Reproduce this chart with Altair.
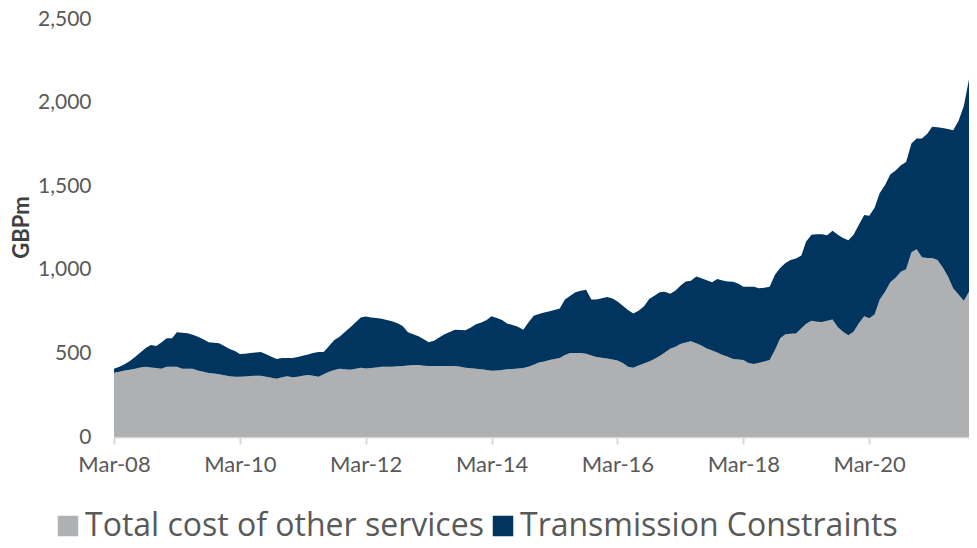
import altair as alt
import pandas as pd

# Monthly, Mar-08 .. Oct-21
months = pd.date_range("2008-03-01", "2021-10-01", freq="MS")

other_services = [
    384, 390, 397, 402, 408, 415, 420, 416, 412, 408, 420, 420,
    420, 408, 408, 408, 398, 390, 383, 380, 376, 370, 364, 360,
    360, 362, 365, 366, 366, 360, 355, 349, 358, 364, 357, 360,
    367, 371, 366, 360, 375, 390, 400, 408, 405, 402, 408, 414,
    410, 412, 416, 420, 420, 420, 423, 425, 428, 430, 431, 426,
    425, 425, 425, 425, 425, 425, 420, 414, 411, 408, 405, 400,
    396, 398, 401, 405, 407, 410, 413, 420, 432, 445, 452, 460,
    466, 473, 490, 502, 502, 502, 498, 488, 479, 474, 469, 464,
    458, 443, 420, 414, 428, 440, 452, 467, 485, 505, 528, 540,
    556, 565, 573, 560, 547, 530, 518, 505, 490, 480, 467, 464,
    460, 442, 437, 444, 452, 460, 520, 591, 615, 617, 619, 650,
    678, 695, 690, 688, 695, 703, 656, 630, 609, 630, 680, 722,
    710, 733, 822, 869, 925, 952, 988, 1003, 1105, 1123, 1075, 1070,
    1070, 1058, 1015, 960, 890, 853, 815, 869,
]

transmission = [
    24, 30, 38, 53, 70, 90, 112, 134, 133, 157, 171, 171,
    206, 216, 212, 204, 202, 195, 184, 183, 185, 175, 162, 154,
    136, 136, 137, 139, 142, 135, 125, 118, 115, 109, 116, 118,
    119, 123, 136, 148, 133, 155, 180, 192, 223, 253, 277, 301,
    311, 303, 296, 287, 280, 273, 257, 239, 198, 185, 172, 159,
    142, 150, 170, 190, 203, 217, 220, 224, 244, 266, 280, 300,
    326, 314, 299, 273, 263, 250, 229, 265, 293, 290, 293, 292,
    294, 295, 332, 343, 363, 373, 382, 334, 343, 356, 368, 364,
    352, 342, 340, 325, 327, 340, 373, 378, 380, 363, 329, 336,
    349, 365, 361, 400, 403, 407, 407, 440, 446, 450, 461, 452,
    438, 456, 461, 446, 441, 438, 450, 420, 425, 441, 449, 435,
    492, 515, 522, 524, 511, 530, 554, 560, 567, 580, 590, 606,
    614, 638, 638, 638, 645, 642, 637, 642, 650, 662, 710, 744,
    786, 794, 833, 882, 945, 1037, 1165, 1270,
]

series_names = ["Total cost of other services", "Transmission Constraints"]
series_colors = ["#AEB0B2", "#003560"]
tick_dates = [f"{y}-03-01" for y in range(2008, 2022, 2)]
y_ticks = [0, 500, 1000, 1500, 2000, 2500]

rows = []
for d, o, t in zip(months, other_services, transmission):
    rows.append({"date": d, "series": series_names[0], "value": o, "ord": 0})
    rows.append({"date": d, "series": series_names[1], "value": t, "ord": 1})
df = pd.DataFrame(rows)

FONT = "Lato"

chart = (
    alt.Chart(df)
    .mark_area(interpolate="linear")
    .encode(
        x=alt.X(
            "date:T",
            scale=alt.Scale(domain=["2008-03-01", "2021-10-01"]),
            axis=alt.Axis(
                values=tick_dates,
                format="%b-%y",
                title=None,
                grid=False,
                labelFlush=False,
                domainColor="#D9D9D9",
                domainWidth=2,
                tickColor="#D9D9D9",
                tickWidth=2,
                tickSize=7,
                labelFontSize=22,
                labelColor="#595959",
                labelPadding=10,
                labelFont=FONT,
            ),
        ),
        y=alt.Y(
            "value:Q",
            stack="zero",
            scale=alt.Scale(domain=[0, 2500], nice=False),
            axis=alt.Axis(
                values=y_ticks,
                format=",d",
                title="GBPm",
                grid=False,
                domain=False,
                ticks=False,
                labelFontSize=21,
                labelColor="#595959",
                labelPadding=23,
                labelFont=FONT,
                titleFont=FONT,
                titleFontSize=22,
                titleFontWeight="bold",
                titleColor="#404040",
                titleAngle=270,
                titleX=-93,
                titleY=208,
                titleAlign="center",
                titleBaseline="middle",
            ),
        ),
        color=alt.Color(
            "series:N",
            scale=alt.Scale(domain=series_names, range=series_colors),
            legend=alt.Legend(
                orient="none",
                legendX=-62,
                legendY=491,
                direction="horizontal",
                title=None,
                symbolType="square",
                symbolSize=420,
                symbolStrokeWidth=0,
                labelFontSize=32,
                labelFont="Open Sans",
                labelColor="#595959",
                labelOffset=1,
                columnPadding=3,
                labelLimit=600,
            ),
        ),
        order=alt.Order("ord:Q"),
    )
    .properties(
        width=855,
        height=418,
        autosize=alt.AutoSizeParams(type="none"),
        padding={"left": 106, "top": 11, "right": 0, "bottom": 103},
    )
    .configure_view(stroke=None)
)

chart.save("out.html", embed_options={"renderer": "svg", "actions": False})
